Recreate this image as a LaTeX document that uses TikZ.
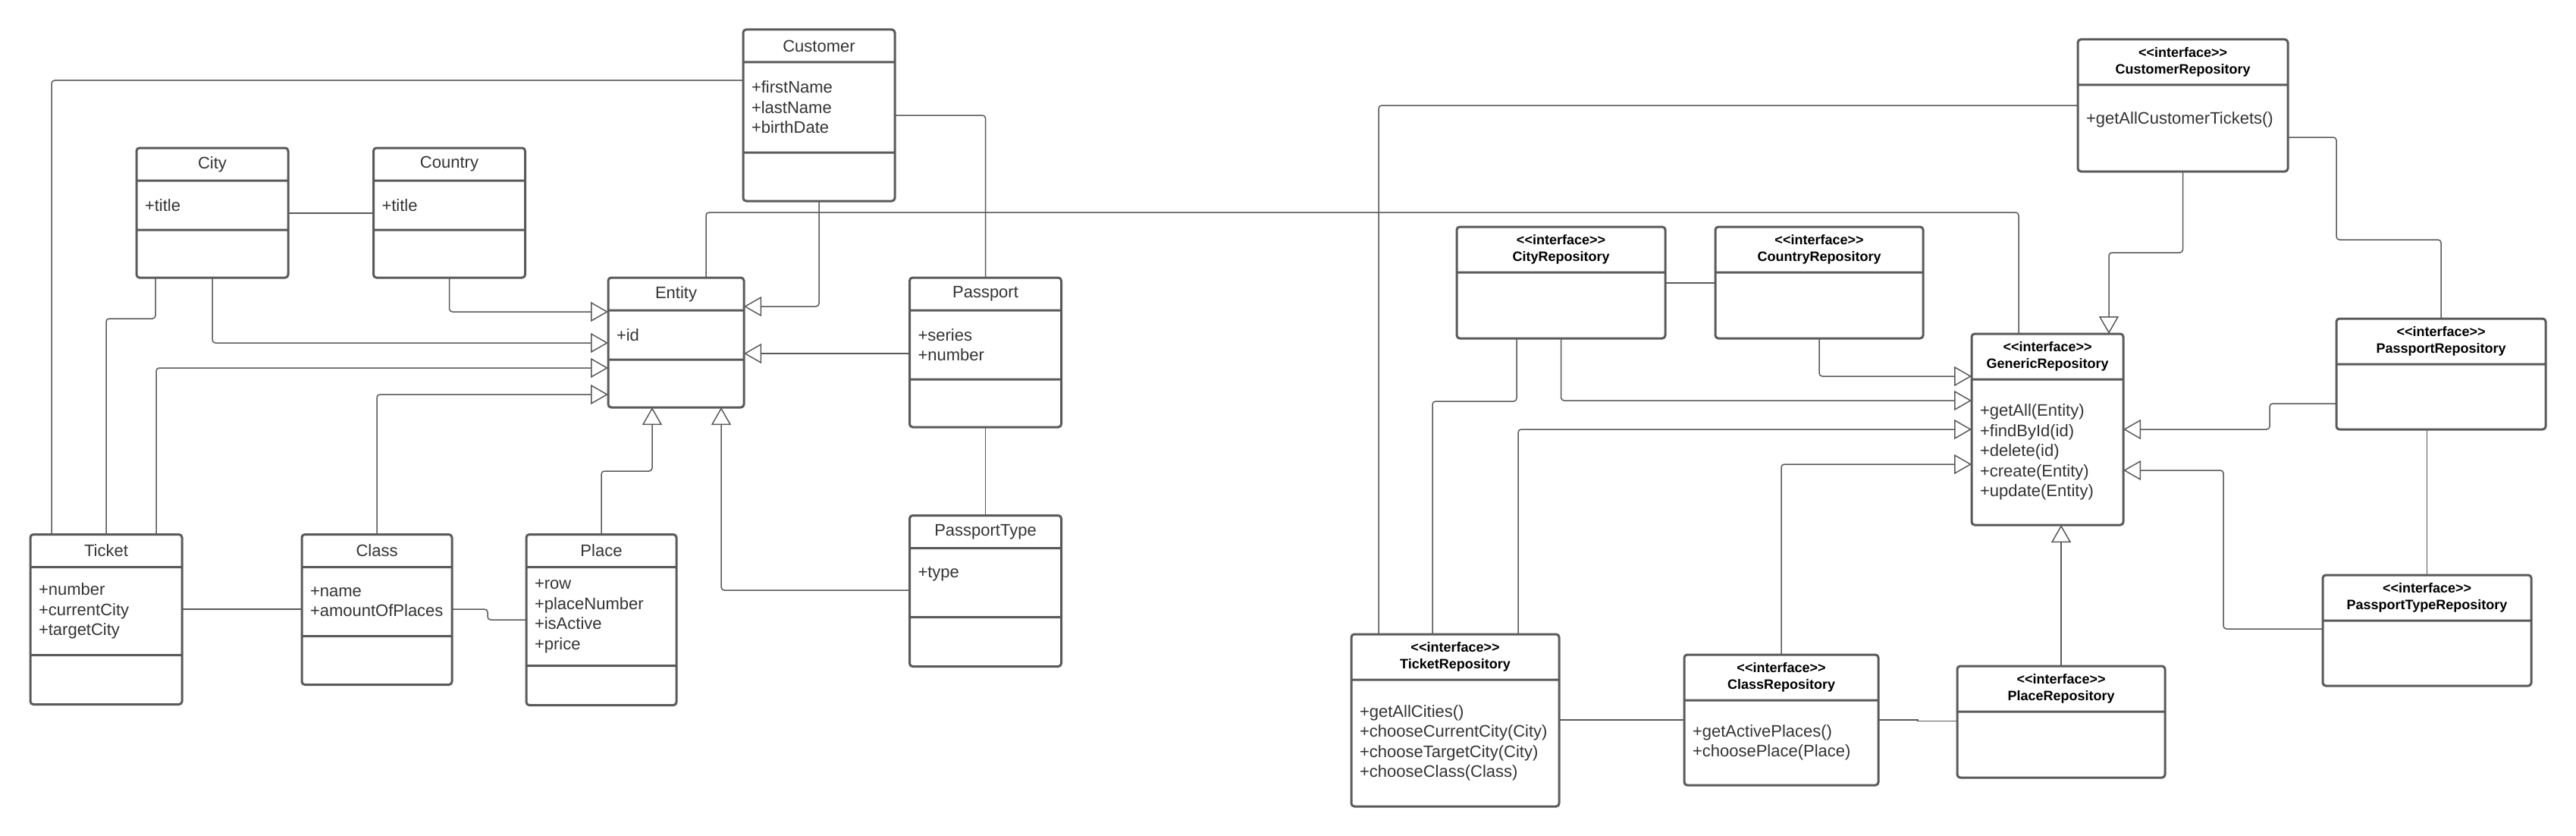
\documentclass[tikz,border=0pt]{standalone}
\usepackage{fontspec}
\setmainfont{Liberation Sans}
\usetikzlibrary{positioning, arrows.meta}
\definecolor{umlline}{HTML}{5A5A5A}
\definecolor{umltext}{HTML}{333333}
\newcommand{\iface}{<\kern0pt<interface>\kern0pt>}
\hyphenpenalty=10000

\begin{document}
\begin{tikzpicture}[x=1pt, y=1pt,
    umlhead/.style={text width=#1, align=center, minimum height=21.5pt, inner sep=0pt, outer sep=0pt,
        text=umltext, font=\fontsize{11}{13.25}\selectfont},
    umliface/.style={text width=#1, align=center, minimum height=30pt, inner sep=0pt, outer sep=0pt,
        text=black, font=\bfseries\fontsize{9}{11}\selectfont},
    umlpart/.style={text width=#1, align=left, inner xsep=5.5pt, inner ysep=0pt, outer sep=0pt,
        text=umltext, font=\fontsize{11}{13.25}\selectfont},
    umlframe/.style={draw=umlline, line width=1.5pt, rounded corners=2pt},
    umllink/.style={draw=umlline, line width=0.75pt, rounded corners=2pt},
    umlextends/.style={umllink, -{Triangle[open, length=11.5pt, width=13pt]}}]
    \useasboundingbox (0,0) rectangle (1698.5,-551);

    \node[umlhead=100pt] (Customer) at (540,-30.25) {Customer};
    \node[umlpart=89pt, minimum height=59.5pt] (CustomerAttr) [below=0pt of Customer] {+firstName\\+lastName\\+birthDate};
    \node[umlpart=89pt, minimum height=32pt] (CustomerOps) [below=0pt of CustomerAttr] {};

    \node[umlhead=100pt] (City) at (140,-108.25) {City};
    \node[umlpart=89pt, minimum height=32.5pt] (CityAttr) [below=0pt of City] {+title};
    \node[umlpart=89pt, minimum height=31.5pt] (CityOps) [below=0pt of CityAttr] {};

    \node[umlhead=100pt] (Country) at (296.25,-108.25) {Country};
    \node[umlpart=89pt, minimum height=32.5pt] (CountryAttr) [below=0pt of Country] {+title};
    \node[umlpart=89pt, minimum height=31.5pt] (CountryOps) [below=0pt of CountryAttr] {};

    \node[umlhead=89.5pt] (Entity) at (445.75,-193.75) {Entity};
    \node[umlpart=78.5pt, minimum height=32.5pt] (EntityAttr) [below=0pt of Entity] {+id};
    \node[umlpart=78.5pt, minimum height=31.5pt] (EntityOps) [below=0pt of EntityAttr] {};

    \node[umlhead=100pt] (Passport) at (649.75,-193.75) {Passport};
    \node[umlpart=89pt, minimum height=45.5pt] (PassportAttr) [below=0pt of Passport] {+series\\+number};
    \node[umlpart=89pt, minimum height=31.5pt] (PassportOps) [below=0pt of PassportAttr] {};

    \node[umlhead=100pt] (PassportType) at (649.75,-350.5) {PassportType};
    \node[umlpart=89pt, minimum height=45.5pt] (PassportTypeAttr) [below=0pt of PassportType] {+type\\\mbox{}};
    \node[umlpart=89pt, minimum height=32.5pt] (PassportTypeOps) [below=0pt of PassportTypeAttr] {};

    \node[umlhead=100pt] (Ticket) at (70,-363) {Ticket};
    \node[umlpart=89pt, minimum height=58pt] (TicketAttr) [below=0pt of Ticket] {+number\\+currentCity\\+targetCity};
    \node[umlpart=89pt, minimum height=32.5pt] (TicketOps) [below=0pt of TicketAttr] {};

    \node[umlhead=99pt] (Class) at (248.5,-363) {Class};
    \node[umlpart=88pt, minimum height=45.5pt] (ClassAttr) [below=0pt of Class] {+name\\+amountOfPlaces};
    \node[umlpart=88pt, minimum height=32pt] (ClassOps) [below=0pt of ClassAttr] {};

    \node[umlhead=99pt] (Place) at (396.5,-363) {Place};
    \node[umlpart=88pt, minimum height=65pt] (PlaceAttr) [below=0pt of Place] {+row\\+placeNumber\\+isActive\\+price};
    \node[umlpart=88pt, minimum height=26pt] (PlaceOps) [below=0pt of PlaceAttr] {};

    \node[umliface=138.5pt] (CustomerRepository) at (1439.25,-41) {\iface\\CustomerRepository};
    \node[umlpart=127.5pt, minimum height=57pt] (CustomerRepositoryBody) [below=0pt of CustomerRepository] {+getAllCustomerTickets()\\\mbox{}};

    \node[umliface=137.5pt] (CityRepository) at (1029.25,-164.5) {\iface\\CityRepository};
    \node[umlpart=126.5pt, minimum height=43.5pt] (CityRepositoryBody) [below=0pt of CityRepository] {};

    \node[umliface=137pt] (CountryRepository) at (1199.5,-164.5) {\iface\\CountryRepository};
    \node[umlpart=126pt, minimum height=43.5pt] (CountryRepositoryBody) [below=0pt of CountryRepository] {};

    \node[umliface=100pt] (GenericRepository) at (1350,-235) {\iface\\GenericRepository};
    \node[umlpart=89pt, minimum height=96pt] (GenericRepositoryBody) [below=0pt of GenericRepository] {+getAll(Entity)\\+findById(id)\\+delete(id)\\+create(Entity)\\+update(Entity)};

    \node[umliface=138pt] (PassportRepository) at (1609.5,-225) {\iface\\PassportRepository};
    \node[umlpart=127pt, minimum height=43pt] (PassportRepositoryBody) [below=0pt of PassportRepository] {};

    \node[umliface=137.5pt] (PassportTypeRepository) at (1600.25,-394) {\iface\\PassportTypeRepository};
    \node[umlpart=126.5pt, minimum height=43pt] (PassportTypeRepositoryBody) [below=0pt of PassportTypeRepository] {};

    \node[umliface=137pt] (TicketRepository) at (959.5,-433) {\iface\\TicketRepository};
    \node[umlpart=126pt, minimum height=83.5pt] (TicketRepositoryBody) [below=0pt of TicketRepository] {+getAllCities()\\+chooseCurrentCity(City)\\+chooseTargetCity(City)\\+chooseClass(Class)};

    \node[umliface=128pt] (ClassRepository) at (1174.5,-446.5) {\iface\\ClassRepository};
    \node[umlpart=117pt, minimum height=56pt] (ClassRepositoryBody) [below=0pt of ClassRepository] {+getActivePlaces()\\+choosePlace(Place)};

    \node[umliface=137pt] (PlaceRepository) at (1359,-454) {\iface\\PlaceRepository};
    \node[umlpart=126pt, minimum height=43.5pt] (PlaceRepositoryBody) [below=0pt of PlaceRepository] {};

    \foreach \c in {Customer, City, Country, Entity, Passport, PassportType, Ticket, Class, Place}
        \draw[umlframe] (\c.north west) rectangle (\c Ops.south east)
            (\c.south west) -- (\c.south east) (\c Attr.south west) -- (\c Attr.south east);
    \foreach \c in {CustomerRepository, CityRepository, CountryRepository, GenericRepository, PassportRepository,
            PassportTypeRepository, TicketRepository, ClassRepository, PlaceRepository}
        \draw[umlframe] (\c.north west) rectangle (\c Body.south east) (\c.south west) -- (\c.south east);

    \draw[umllink] (CustomerAttr.west |- 0,-53) -| (Ticket.north -| 34,0);
    \draw[umllink] (CustomerAttr.east |- 0,-76) -| (Passport.north);
    \draw[umlextends] (CustomerOps.south) |- (Entity.east |- 0,-202);
    \draw[umllink] (Entity.north -| 465.5,0) |- (1331,-140) -- (GenericRepository.north -| 1331,0);
    \draw[umllink] (CityAttr.east |- 0,-140.5) -- (CountryAttr.west |- 0,-140.5);
    \draw[umlextends] (CountryOps.south) |- (Entity.west |- 0,-205.5);
    \draw[umlextends] (CityOps.south) |- (EntityAttr.west |- 0,-226);
    \draw[umllink] (CityOps.south -| 102.5,0) |- (70,-210) -- (Ticket.north);
    \draw[umlextends] (Ticket.north -| 103,0) |- (EntityOps.west |- 0,-242.5);
    \draw[umlextends] (Class.north) |- (EntityOps.west |- 0,-260);
    \draw[umlextends] (PassportAttr.west |- 0,-233) -- (EntityAttr.east |- 0,-233);
    \draw[umlextends] (Place.north) |- (430,-310.5) -- (EntityOps.south -| 430,0);
    \draw[umlextends] (PassportTypeAttr.west |- 0,-389) -| (EntityOps.south -| 475.5,0);
    \draw[umllink] (PassportOps.south) -- (PassportType.north);
    \draw[umllink] (TicketAttr.east |- 0,-401.5) -- (ClassAttr.west |- 0,-401.5);
    \draw[umllink] (ClassAttr.east |- 0,-401.5) -| (321.5,-408.5) -- (PlaceAttr.west |- 0,-408.5);

    \draw[umllink] (CustomerRepositoryBody.west |- 0,-69.5) -| (TicketRepository.north -| 909,0);
    \draw[umllink] (CustomerRepositoryBody.east |- 0,-90.5) -| (1540.5,-158) -| (PassportRepository.north);
    \draw[umlextends] (CustomerRepositoryBody.south) |- (1390.5,-166.5) -- (GenericRepository.north -| 1390.5,0);
    \draw[umllink] (CityRepositoryBody.east |- 0,-186.5) -- (CountryRepositoryBody.west |- 0,-186.5);
    \draw[umlextends] (CountryRepositoryBody.south) |- (GenericRepository.west |- 0,-248);
    \draw[umlextends] (CityRepositoryBody.south) |- (GenericRepositoryBody.west |- 0,-264);
    \draw[umllink] (CityRepositoryBody.south -| 1000,0) |- (944.5,-264.5) -- (TicketRepository.north -| 944.5,0);
    \draw[umlextends] (TicketRepository.north -| 1001,0) |- (GenericRepositoryBody.west |- 0,-283);
    \draw[umlextends] (ClassRepository.north) |- (GenericRepositoryBody.west |- 0,-306);
    \draw[umlextends] (PassportRepositoryBody.west |- 0,-266) -| (1496.5,-283) -- (GenericRepositoryBody.east |- 0,-283);
    \draw[umlextends] (PassportTypeRepositoryBody.west |- 0,-414.5) -| (1466,-310) -- (GenericRepositoryBody.east |- 0,-310);
    \draw[umlextends] (PlaceRepository.north) -- (PlaceRepository.north |- GenericRepositoryBody.south);
    \draw[umllink] (PassportRepositoryBody.south -| PassportTypeRepository.north) -- (PassportTypeRepository.north);
    \draw[umllink] (TicketRepositoryBody.east |- 0,-474.5) -- (ClassRepositoryBody.west |- 0,-474.5);
    \draw[umllink, sharp corners] (ClassRepositoryBody.east |- 0,-474.5) -| (1264.5,-475.25) -- (PlaceRepositoryBody.west |- 0,-475.25);
\end{tikzpicture}
\end{document}
